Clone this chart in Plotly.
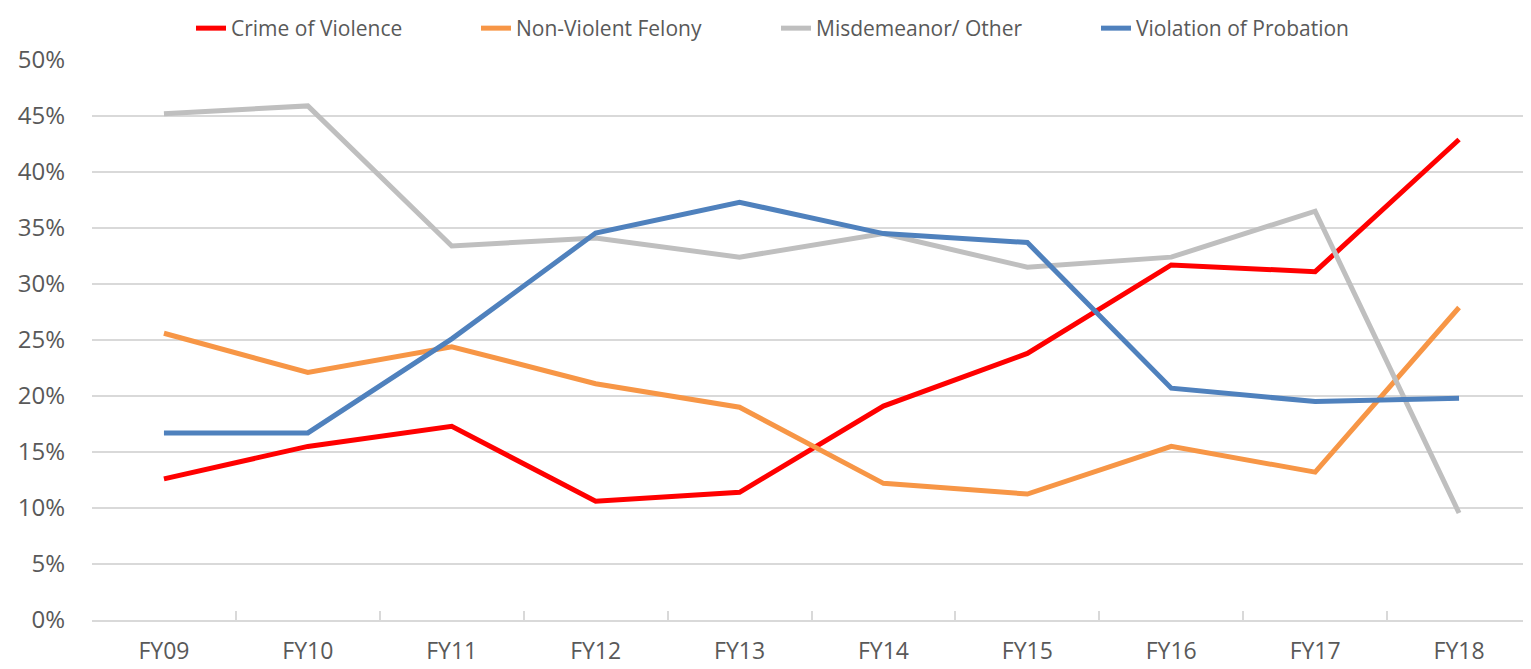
import plotly.graph_objects as go

categories = ["FY09", "FY10", "FY11", "FY12", "FY13", "FY14", "FY15", "FY16", "FY17", "FY18"]
crime_of_violence = [12.6, 15.5, 17.3, 10.6, 11.4, 19.1, 23.8, 31.7, 31.1, 42.9]
non_violent_felony = [25.6, 22.1, 24.4, 21.1, 19.0, 12.2, 11.25, 15.5, 13.2, 27.9]
misdemeanor_other = [45.2, 45.9, 33.4, 34.1, 32.4, 34.5, 31.5, 32.4, 36.5, 9.55]
violation_of_probation = [16.7, 16.7, 25.1, 34.55, 37.3, 34.5, 33.7, 20.7, 19.5, 19.8]

series = [
    ("Crime of Violence", crime_of_violence, "#FF0000"),
    ("Non-Violent Felony", non_violent_felony, "#F79646"),
    ("Misdemeanor/ Other", misdemeanor_other, "#BFBFBF"),
    ("Violation of Probation", violation_of_probation, "#4F81BD"),
]
legend_ids = ["legend", "legend2", "legend3", "legend4"]
legend_left_px = [183, 468, 768, 1088]

W, H = 1523, 661
font_family = "Open Sans, Noto Sans, sans-serif"

fig = go.Figure()
for (name, vals, color), lid in zip(series, legend_ids):
    fig.add_trace(go.Scatter(
        x=categories, y=[v / 100 for v in vals], name=name, mode="lines",
        line=dict(color=color, width=5), legend=lid,
    ))

legend_layout = {}
for lid, left in zip(legend_ids, legend_left_px):
    legend_layout[lid] = dict(
        orientation="h", x=left / W, xanchor="left", xref="container",
        y=1.0, yanchor="top", yref="container",
        font=dict(family=font_family, size=21, color="#595959"),
        bgcolor="rgba(0,0,0,0)",
    )

fig.update_layout(
    width=W, height=H,
    margin=dict(l=84, r=0, t=52, b=49, autoexpand=False),
    plot_bgcolor="white", paper_bgcolor="white",
    showlegend=True,
    xaxis=dict(
        type="category", showgrid=False, showline=True, linecolor="#D9D9D9", linewidth=1.5,
        ticks="inside", tickson="boundaries", ticklen=9, tickcolor="#D9D9D9", tickwidth=1.5,
        tickfont=dict(family=font_family, size=23, color="#595959"),
        range=[-0.5, 9.5], ticklabelstandoff=10, automargin=False,
    ),
    yaxis=dict(
        range=[0, 0.5], dtick=0.05, tickformat=".0%", showgrid=True, gridcolor="#D9D9D9",
        gridwidth=1.5, zeroline=False, showline=False,
        tickfont=dict(family=font_family, size=24, color="#595959"),
        ticks="", ticklabelstandoff=26, automargin=False,
    ),
    **legend_layout,
)

fig.write_html("out.html")
